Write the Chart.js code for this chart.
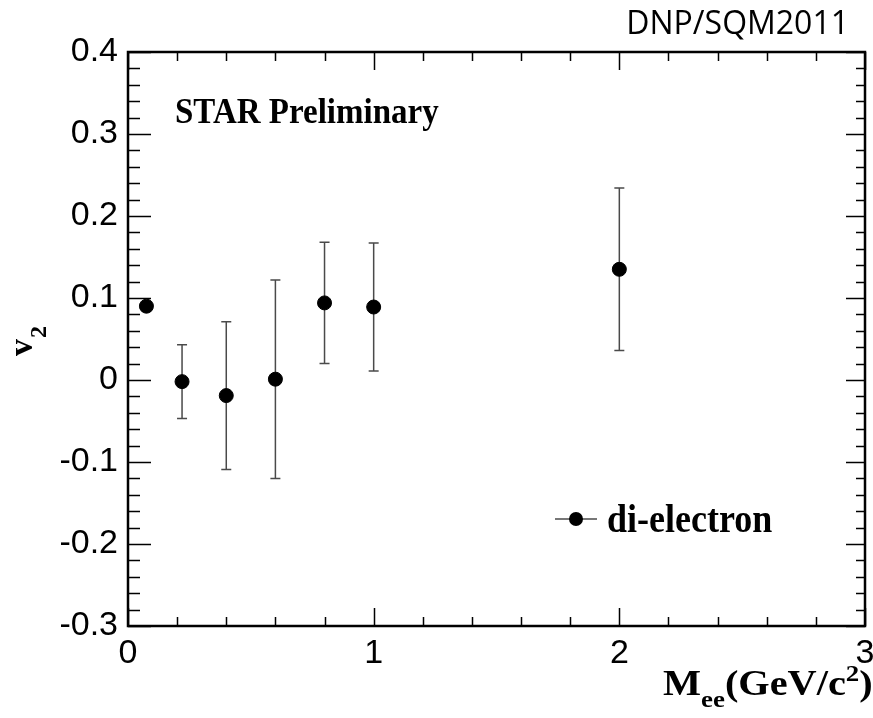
<!DOCTYPE html>
<html>
<head>
<meta charset="utf-8">
<script src="https://cdn.jsdelivr.net/npm/chart.js@4.4.0/dist/chart.umd.min.js"></script>
<style>
  body { margin: 0; background: #fff; }
  #wrap { width: 873px; height: 718px; position: relative; }
</style>
</head>
<body>
<div id="wrap"><canvas id="v2-chart"></canvas></div>
<script>
// ---- data ----
var massVals = [0.075, 0.22, 0.40, 0.60, 0.80, 1.00, 2.00];
var v2Vals   = [0.090, -0.002, -0.019, 0.001, 0.094, 0.089, 0.135];
var v2Errs   = [0.000, 0.045, 0.090, 0.121, 0.074, 0.078, 0.099];

var xTicks = [0, 1, 2, 3];
var xTickLabels = ['0', '1', '2', '3'];
var yTicks = [-0.3, -0.2, -0.1, 0, 0.1, 0.2, 0.3, 0.4];
var yTickLabels = ['-0.3', '-0.2', '-0.1', '0', '0.1', '0.2', '0.3', '0.4'];

var tickFont = { family: 'Liberation Sans', size: 34 };

// ================= error bars =================
var errorBars = {
  id: 'errorBars',
  beforeDatasetsDraw: function(chart) {
    var ctx = chart.ctx, xs = chart.scales.x, ys = chart.scales.y;
    ctx.save();
    ctx.strokeStyle = '#4a4a4a';
    ctx.lineWidth = 1.5;
    for (var i = 0; i < massVals.length; i++) {
      if (!v2Errs[i]) continue;
      var px = xs.getPixelForValue(massVals[i]);
      var top = ys.getPixelForValue(v2Vals[i] + v2Errs[i]);
      var bot = ys.getPixelForValue(v2Vals[i] - v2Errs[i]);
      ctx.beginPath();
      ctx.moveTo(px, top); ctx.lineTo(px, bot);
      ctx.moveTo(px - 5, top); ctx.lineTo(px + 5, top);
      ctx.moveTo(px - 5, bot); ctx.lineTo(px + 5, bot);
      ctx.stroke();
    }
    ctx.restore();
  }
};

// ================= frame, inside ticks, labels =================
var rootFrame = {
  id: 'rootFrame',
  afterDraw: function(chart) {
    var ctx = chart.ctx, a = chart.chartArea;
    var xs = chart.scales.x, ys = chart.scales.y;
    ctx.save();
    ctx.strokeStyle = '#000';

    // minor + major ticks
    ctx.lineWidth = 1.5;
    ctx.beginPath();
    for (var k = 0; k <= 15; k++) {
      var px = Math.round(xs.getPixelForValue(k * 0.2)) + 0.5;
      var len = (k % 5 === 0) ? 18 : 9;
      ctx.moveTo(px, a.bottom); ctx.lineTo(px, a.bottom - len);
      ctx.moveTo(px, a.top); ctx.lineTo(px, a.top + len);
    }
    for (var j = 0; j <= 35; j++) {
      var py = Math.round(ys.getPixelForValue(-0.3 + j * 0.02)) + 0.5;
      var maj = (j % 5 === 0);
      ctx.moveTo(a.left, py); ctx.lineTo(a.left + (maj ? 23 : 12), py);
      ctx.moveTo(a.right, py); ctx.lineTo(a.right - (maj ? 19 : 9), py);
    }
    ctx.stroke();

    ctx.lineWidth = 2.5;
    ctx.strokeRect(a.left, a.top, a.right - a.left, a.bottom - a.top);

    ctx.fillStyle = '#000';
    ctx.textBaseline = 'alphabetic';
    ctx.textAlign = 'left';

    // STAR Preliminary
    ctx.save();
    ctx.translate(175, 123); ctx.scale(1, 1.1);
    ctx.font = 'bold 33px "Liberation Serif"';
    ctx.fillText('STAR Preliminary', 0, 0);
    ctx.restore();

    // legend
    ctx.strokeStyle = '#4a4a4a';
    ctx.lineWidth = 1.5;
    ctx.beginPath();
    ctx.moveTo(555, 519); ctx.lineTo(597, 519);
    ctx.stroke();
    ctx.beginPath();
    ctx.arc(576, 519, 7, 0, Math.PI * 2);
    ctx.fill();
    ctx.save();
    ctx.translate(607, 532); ctx.scale(1, 1.1);
    ctx.font = 'bold 36px "Liberation Serif"';
    ctx.fillText('di-electron', 0, 0);
    ctx.restore();

    // y title v_2
    ctx.save();
    ctx.translate(32, 356);
    ctx.rotate(-Math.PI / 2);
    ctx.font = 'bold 34px "Liberation Serif"';
    ctx.fillText('v', 0, 0);
    var vw = ctx.measureText('v').width;
    ctx.font = 'bold 24px "Liberation Serif"';
    ctx.fillText('2', vw + 1, 14);
    ctx.restore();

    // x title M_ee(GeV/c^2)
    ctx.save();
    ctx.translate(663, 695); ctx.scale(1.12, 1);
    var x0 = 0;
    ctx.font = 'bold 36px "Liberation Serif"';
    ctx.fillText('M', x0, 0); x0 += ctx.measureText('M').width;
    ctx.font = 'bold 24px "Liberation Serif"';
    ctx.fillText('ee', x0, 12); x0 += ctx.measureText('ee').width;
    ctx.font = 'bold 36px "Liberation Serif"';
    ctx.fillText('(GeV/c', x0, 0); x0 += ctx.measureText('(GeV/c').width;
    ctx.font = 'bold 24px "Liberation Serif"';
    ctx.fillText('2', x0, -14); x0 += ctx.measureText('2').width;
    ctx.font = 'bold 36px "Liberation Serif"';
    ctx.fillText(')', x0, 0);
    ctx.restore();

    // corner tag
    ctx.font = '32px "Open Sans"';
    ctx.textAlign = 'right';
    ctx.fillText('DNP/SQM2011', 849, 34);

    ctx.restore();
  }
};

var canvas = document.getElementById('v2-chart');
var pts = massVals.map(function(m, i) { return { x: m, y: v2Vals[i] }; });

var v2Chart = new Chart(canvas, {
  type: 'scatter',
  data: {
    datasets: [{
      label: 'di-electron',
      data: pts,
      backgroundColor: '#000',
      borderColor: '#000',
      pointRadius: 7,
      pointHoverRadius: 7
    }]
  },
  options: {
    responsive: true,
    maintainAspectRatio: false,
    animation: false,
    events: [],
    layout: { padding: { top: 52, right: 6, left: 0, bottom: 0 } },
    plugins: {
      legend: { display: false },
      tooltip: { enabled: false }
    },
    scales: {
      x: {
        type: 'linear',
        min: 0, max: 3,
        grid: { display: false, drawTicks: false },
        border: { display: false },
        afterBuildTicks: function(scale) {
          scale.ticks = xTicks.map(function(v) { return { value: v }; });
        },
        afterFit: function(scale) {
          scale.height = 92;
          scale.paddingLeft = 0;
          scale.paddingRight = 0;
        },
        ticks: {
          color: '#000',
          font: tickFont,
          padding: 7,
          maxRotation: 0,
          callback: function(v, i) { return xTickLabels[i]; }
        }
      },
      y: {
        type: 'linear',
        min: -0.3, max: 0.4,
        grid: { display: false, drawTicks: false },
        border: { display: false },
        afterBuildTicks: function(scale) {
          scale.ticks = yTicks.map(function(v) { return { value: v }; });
        },
        afterFit: function(scale) {
          scale.width = 128;
        },
        ticks: {
          color: '#000',
          font: tickFont,
          padding: 10,
          callback: function(v, i) { return yTickLabels[i]; }
        }
      }
    }
  },
  plugins: [errorBars, rootFrame]
});
</script>
</body>
</html>
